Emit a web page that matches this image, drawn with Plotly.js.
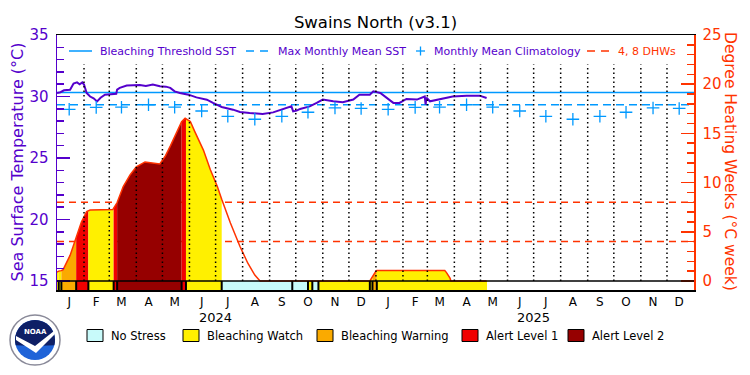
<!DOCTYPE html>
<html>
<head>
<meta charset="utf-8">
<script src="https://cdn.plot.ly/plotly-3.0.1.min.js"></script>
<style>
html,body{margin:0;padding:0;background:#ffffff;}
#chart{width:750px;height:375px;}
</style>
</head>
<body>
<div id="chart"></div>
<script>
// ---------------- data ----------------
const monthLetters = ['J','F','M','A','M','J','J','A','S','O','N','D'];
const years = ['2024','2025'];
const climatology = [28.96, 29.12, 29.13, 29.33, 29.13, 28.82, 28.39, 28.15, 28.39, 28.72, 29.07, 29.03];
const maxMonthlyMean = 29.33;
const bleachingThreshold = 30.33;
const dhwRefLevels = [4, 8];

const sstDates = ['2024-01-01','2024-01-05','2024-01-09','2024-01-16','2024-01-20','2024-01-24','2024-01-27','2024-01-30',
  '2024-02-01','2024-02-04','2024-02-08','2024-02-12','2024-02-16','2024-02-20','2024-02-25','2024-03-04','2024-03-09',
  '2024-03-10','2024-03-13','2024-03-21','2024-04-05','2024-04-12','2024-04-20','2024-04-28','2024-05-05','2024-05-10',
  '2024-05-15','2024-05-21','2024-05-31','2024-06-09','2024-06-21','2024-06-28','2024-07-08','2024-07-21','2024-07-29',
  '2024-08-09','2024-08-24','2024-09-05','2024-09-20','2024-09-26','2024-09-28','2024-10-02','2024-10-06','2024-10-17',
  '2024-10-25','2024-11-01','2024-11-13','2024-11-24','2024-12-06','2024-12-13','2024-12-25','2024-12-29','2025-01-06',
  '2025-01-13','2025-01-21','2025-01-28','2025-02-05','2025-02-17','2025-02-26','2025-02-27','2025-02-28','2025-03-04',
  '2025-03-15','2025-03-30','2025-04-15','2025-04-30','2025-05-08'];
const sstValues = [30.29,30.35,30.50,30.55,31.05,31.15,31.00,31.15,
  30.97,30.29,30.00,29.85,29.60,29.90,30.15,30.20,30.22,
  30.56,30.70,30.89,30.94,30.85,30.97,30.83,30.80,30.70,
  30.42,30.29,30.15,29.93,29.74,29.48,29.15,28.93,28.74,
  28.66,28.58,28.71,29.07,29.20,28.79,28.85,28.99,29.20,
  29.48,29.75,29.61,29.53,29.75,30.15,30.15,30.42,30.29,
  29.88,29.48,29.48,29.80,29.75,30.00,29.34,29.90,29.61,
  29.75,30.00,30.07,30.07,29.88];

const dhwDates = ['2024-01-01','2024-01-03','2024-01-06','2024-01-08','2024-01-16','2024-01-23','2024-01-29','2024-02-04',
  '2024-02-06','2024-02-08','2024-03-05','2024-03-06','2024-03-07','2024-03-10','2024-03-17','2024-03-25','2024-04-01',
  '2024-04-11','2024-04-28','2024-05-04','2024-05-10','2024-05-18','2024-05-23','2024-05-27','2024-05-28','2024-06-02',
  '2024-06-07','2024-06-17','2024-06-25','2024-07-03','2024-07-08','2024-07-18','2024-07-29','2024-08-07','2024-08-15',
  '2024-08-21','2024-12-25','2024-12-26','2024-12-28','2024-12-29','2025-01-01','2025-01-02','2025-03-21','2025-03-23',
  '2025-03-27','2025-03-28','2025-05-08'];
const dhwValues = [0.90,1.00,1.05,1.15,2.60,4.35,6.00,7.05,
  7.15,7.20,7.25,7.40,7.55,7.97,9.60,10.80,11.60,
  12.10,11.90,12.65,13.70,15.20,16.20,16.55,16.50,16.20,
  15.20,13.30,11.30,9.60,8.30,5.90,3.50,1.80,0.60,
  0.00,0.00,0.15,0.45,0.60,1.00,1.05,1.05,0.85,
  0.30,0.00,0.00];

const statusStart = ['2024-01-01','2024-01-03','2024-01-06','2024-01-23','2024-02-06','2024-03-06','2024-03-10','2024-05-23',
  '2024-05-28','2024-07-08','2024-09-27','2024-10-15','2024-10-20','2024-10-27','2024-12-25','2024-12-28','2025-01-02'];
const statusEnd = ['2024-01-03','2024-01-06','2024-01-23','2024-02-06','2024-03-06','2024-03-10','2024-05-23','2024-05-28',
  '2024-07-08','2024-09-27','2024-10-15','2024-10-20','2024-10-27','2024-12-25','2024-12-28','2025-01-02','2025-05-08'];
const statusLevel = [1,1,2,3,1,3,4,3,1,0,0,1,0,1,1,2,1];
const statusNames = ['No Stress','Bleaching Watch','Bleaching Warning','Alert Level 1','Alert Level 2'];
const statusColors = ['#c8fafa','#fff000','#faaa00','#f00000','#960000'];

// ---------------- style ----------------
const FONT = 'DejaVu Sans';
const PURPLE = '#5500cc';
const LBLUE = '#0099ff';
const ORED = '#ff3300';
const PL = 57, PR = 694, PT = 35, PB = 290;
const xp = px => (px - PL) / (PR - PL);
const yp = py => (PB - py) / (PB - PT);
const sstRange = [14.27, 35];
const dhwRange = [-0.92, 25];
const barBottom = dhwRange[0];

// month ticks and boundaries
const tickVals = [], tickText = [], monthStarts = [];
years.forEach(y => {
  for (let m = 1; m <= 12; m++) {
    const mm = String(m).padStart(2, '0');
    tickVals.push(y + '-' + mm + '-15');
    tickText.push(monthLetters[m - 1]);
    monthStarts.push(y + '-' + mm + '-01');
  }
});

const traces = [];
// DHW fills by status
statusStart.forEach((s, i) => {
  const lv = statusLevel[i];
  if (lv < 1) return;
  const e = statusEnd[i];
  const xs = [], ys = [];
  dhwDates.forEach((d, k) => { if (d >= s && d <= e) { xs.push(d); ys.push(dhwValues[k]); } });
  if (xs.length < 2) return;
  traces.push({x: xs, y: ys, yaxis: 'y2', type: 'scatter', mode: 'lines', line: {width: 0},
    fill: 'tozeroy', fillcolor: statusColors[lv], hoverinfo: 'skip', showlegend: false});
});
// DHW outline
traces.push({x: dhwDates, y: dhwValues, yaxis: 'y2', type: 'scatter', mode: 'lines',
  line: {color: ORED, width: 1.5}, name: 'DHW', showlegend: false});
// stress bar
traces.push({type: 'bar', x: statusStart, y: statusStart.map(() => 0 - barBottom), base: barBottom,
  width: statusStart.map((s, i) => Date.parse(statusEnd[i]) - Date.parse(s)), offset: 0,
  marker: {color: statusLevel.map(l => statusColors[l]), line: {width: 0}},
  yaxis: 'y2', hoverinfo: 'skip', showlegend: false});
// separators
const sepX = [], sepY = [];
statusStart.forEach((s, i) => { if (i > 0) { sepX.push(s, s, null); sepY.push(barBottom, 0, null); } });
traces.push({x: sepX, y: sepY, yaxis: 'y2', type: 'scatter', mode: 'lines',
  line: {color: '#000000', width: 2}, hoverinfo: 'skip', showlegend: false});
// SST
traces.push({x: sstDates, y: sstValues, type: 'scatter', mode: 'lines',
  line: {color: PURPLE, width: 2}, name: 'SST', showlegend: false});
// climatology
traces.push({x: tickVals, y: tickVals.map((d, i) => climatology[i % 12]), type: 'scatter', mode: 'markers',
  marker: {symbol: 'cross-thin', size: 9, line: {color: LBLUE, width: 1.3}, color: LBLUE},
  name: 'Monthly Mean Climatology', showlegend: false});

// ---------------- shapes ----------------
const shapes = [];
shapes.push({type: 'line', xref: 'paper', x0: 0, x1: 1, yref: 'y', y0: bleachingThreshold, y1: bleachingThreshold,
  line: {color: LBLUE, width: 1.5}, layer: 'below'});
shapes.push({type: 'line', xref: 'paper', x0: 0, x1: 1, yref: 'y', y0: maxMonthlyMean, y1: maxMonthlyMean,
  line: {color: LBLUE, width: 1.5, dash: '8px,5px'}, layer: 'below'});
dhwRefLevels.forEach(v => shapes.push({type: 'line', xref: 'paper', x0: 0, x1: 1, yref: 'y2', y0: v, y1: v,
  line: {color: ORED, width: 1.5, dash: '7px,5px'}, layer: 'below'}));
monthStarts.slice(1).forEach(d => shapes.push({type: 'line', xref: 'x', x0: d, x1: d, yref: 'y2', y0: 0, y1: 22,
  line: {color: '#000000', width: 1.5, dash: '1.5px,3px'}, layer: 'above'}));
shapes.push({type: 'line', xref: 'paper', x0: 0, x1: 1, yref: 'y2', y0: 0, y1: 0,
  line: {color: '#000000', width: 1.5}, layer: 'above'});

// top legend symbols
const LY = 51;
shapes.push({type: 'line', xref: 'paper', yref: 'paper', x0: xp(69), x1: xp(92), y0: yp(LY), y1: yp(LY), line: {color: LBLUE, width: 1.5}});
shapes.push({type: 'line', xref: 'paper', yref: 'paper', x0: xp(246), x1: xp(270), y0: yp(LY), y1: yp(LY), line: {color: LBLUE, width: 1.5, dash: '8px,6px'}});
shapes.push({type: 'line', xref: 'paper', yref: 'paper', x0: xp(416), x1: xp(425), y0: yp(LY), y1: yp(LY), line: {color: LBLUE, width: 1.3}});
shapes.push({type: 'line', xref: 'paper', yref: 'paper', x0: xp(420.5), x1: xp(420.5), y0: yp(LY - 4.5), y1: yp(LY + 4.5), line: {color: LBLUE, width: 1.3}});
shapes.push({type: 'line', xref: 'paper', yref: 'paper', x0: xp(587), x1: xp(611), y0: yp(LY), y1: yp(LY), line: {color: ORED, width: 1.5, dash: '8px,6px'}});

// bottom legend boxes
const boxX = [87, 183, 317, 462, 568];
boxX.forEach((bx, i) => shapes.push({type: 'rect', xref: 'paper', yref: 'paper', x0: xp(bx), x1: xp(bx + 16),
  y0: yp(341.5), y1: yp(329.5), fillcolor: statusColors[i], line: {color: '#000000', width: 1}}));

// NOAA logo (decorative)
const pathFrom = pts => 'M ' + pts.map(p => xp(p[0]) + ',' + yp(p[1])).join(' L ') + ' Z';
const arc = (cx, cy, r, a0, a1, n) => { const out = []; for (let k = 0; k <= n; k++) { const a = (a0 + (a1 - a0) * k / n) * Math.PI / 180; out.push([cx + r * Math.cos(a), cy - r * Math.sin(a)]); } return out; };
shapes.push({type: 'circle', xref: 'paper', yref: 'paper', x0: xp(10), x1: xp(60), y0: yp(365), y1: yp(315), fillcolor: '#ffffff', line: {color: '#8a8a99', width: 1.5}});
shapes.push({type: 'circle', xref: 'paper', yref: 'paper', x0: xp(15), x1: xp(55), y0: yp(360), y1: yp(320), fillcolor: '#1f63d8', line: {width: 0}});
shapes.push({type: 'path', xref: 'paper', yref: 'paper', path: pathFrom(arc(35, 340, 20, 195, -15, 24).concat([[35, 346]])), fillcolor: '#0e1f66', line: {width: 0}});
shapes.push({type: 'path', xref: 'paper', yref: 'paper', path: pathFrom([[16, 336], [35, 346], [54, 331], [54, 335], [36, 353], [16, 340]]), fillcolor: '#ffffff', line: {width: 0}});

// ---------------- annotations ----------------
const ann = [];
const topLegend = [
  {t: 'Bleaching Threshold SST', x: 98, c: PURPLE},
  {t: 'Max Monthly Mean SST', x: 276, c: PURPLE},
  {t: 'Monthly Mean Climatology', x: 432, c: PURPLE},
  {t: '4, 8 DHWs', x: 616, c: ORED}
];
topLegend.forEach(o => ann.push({text: o.t, xref: 'paper', yref: 'paper', x: xp(o.x), y: yp(LY), xanchor: 'left', yanchor: 'middle',
  showarrow: false, font: {family: FONT, size: 11, color: o.c}}));
statusNames.forEach((n, i) => ann.push({text: n, xref: 'paper', yref: 'paper', x: xp(boxX[i] + 21.5), y: yp(335.5), xanchor: 'left', yanchor: 'middle',
  showarrow: false, font: {family: FONT, size: 11.5, color: '#000000'}}));
years.forEach(y => ann.push({text: y, xref: 'x', yref: 'paper', x: y + '-07-01', y: yp(317.5), xanchor: 'center', yanchor: 'middle',
  showarrow: false, font: {family: FONT, size: 13, color: '#000000'}}));
ann.push({text: 'Sea Surface Temperature (°C)', xref: 'paper', yref: 'paper', x: xp(16.5), y: yp(162), textangle: -90,
  xanchor: 'center', yanchor: 'middle', showarrow: false, font: {family: FONT, size: 16, color: PURPLE}});
ann.push({text: 'Degree Heating Weeks (°C week)', xref: 'paper', yref: 'paper', x: xp(730.5), y: yp(161.5), textangle: 90,
  xanchor: 'center', yanchor: 'middle', showarrow: false, font: {family: FONT, size: 15.5, color: ORED}});
ann.push({text: '<b>NOAA</b>', xref: 'paper', yref: 'paper', x: xp(35), y: yp(332), xanchor: 'center', yanchor: 'middle',
  showarrow: false, font: {family: FONT, size: 7, color: '#ffffff'}});

const layout = {
  width: 750, height: 375,
  margin: {l: PL, r: 750 - PR, t: PT, b: 375 - PB, pad: 0},
  paper_bgcolor: '#ffffff', plot_bgcolor: '#ffffff',
  font: {family: FONT, color: '#000000'},
  showlegend: false,
  title: {text: 'Swains North (v3.1)', font: {family: FONT, size: 16.5, color: '#000000'},
    xref: 'paper', x: 0.5, xanchor: 'center', yref: 'container', y: 1 - 22 / 375, yanchor: 'middle'},
  xaxis: {type: 'date', range: ['2024-01-01', '2026-01-01'], tickmode: 'array', tickvals: tickVals, ticktext: tickText,
    ticks: '', showgrid: false, zeroline: false, showline: true, mirror: true, linecolor: '#000000', linewidth: 1.5,
    tickfont: {family: FONT, size: 12, color: '#000000'}, ticklabelstandoff: 0, fixedrange: true},
  yaxis: {range: sstRange, tickmode: 'array', tickvals: [15, 20, 25, 30, 35], ticks: 'inside', ticklen: 13, tickwidth: 1.5,
    tickcolor: PURPLE, minor: {dtick: 1, ticks: 'inside', ticklen: 7, tickwidth: 1.5, tickcolor: PURPLE},
    showline: true, linecolor: PURPLE, linewidth: 1.5, showgrid: false, zeroline: false,
    tickfont: {family: FONT, size: 15, color: PURPLE}, ticklabelstandoff: 4, fixedrange: true},
  yaxis2: {range: dhwRange, overlaying: 'y', side: 'right', tickmode: 'array', tickvals: [0, 5, 10, 15, 20, 25],
    ticks: 'inside', ticklen: 13, tickwidth: 1.5, tickcolor: ORED,
    minor: {dtick: 1, ticks: 'inside', ticklen: 7, tickwidth: 1.5, tickcolor: ORED},
    showline: true, linecolor: ORED, linewidth: 1.5, showgrid: false, zeroline: false,
    tickfont: {family: FONT, size: 15, color: ORED}, ticklabelstandoff: 4, fixedrange: true},
  shapes: shapes,
  annotations: ann,
  bargap: 0
};

Plotly.newPlot('chart', traces, layout, {staticPlot: true, displayModeBar: false});
</script>
</body>
</html>
